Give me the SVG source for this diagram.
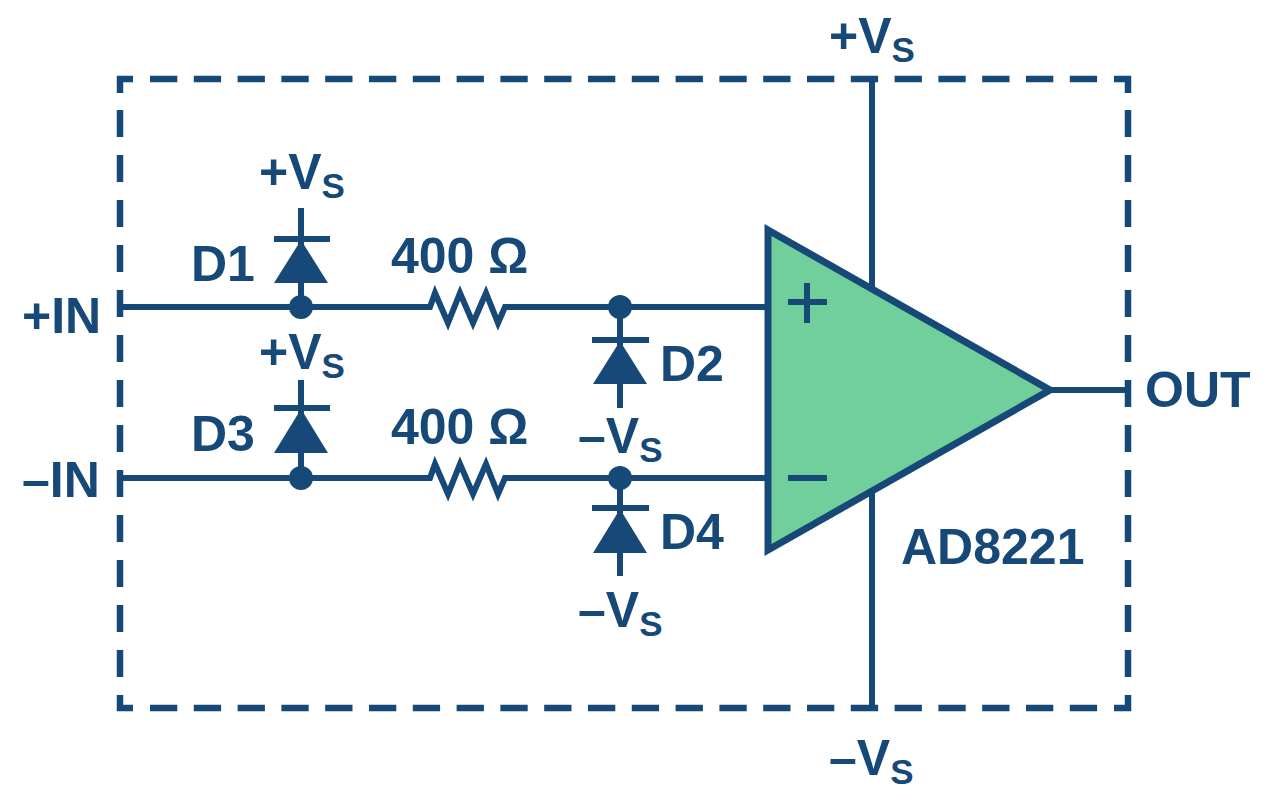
<svg xmlns="http://www.w3.org/2000/svg" width="1280" height="800" viewBox="0 0 1280 800">
<style>
.w{fill:none;stroke:#164878;stroke-width:6}
.b{fill:none;stroke:#164878;stroke-width:6.5}
.h{stroke-dasharray:27.3 16.5}
.v{stroke-dasharray:27 18}
.d{fill:#164878}
text{font-family:"Liberation Sans",Arial,sans-serif;font-weight:700;fill:#164878;font-size:50px}
.s{font-size:35px}
</style>
<rect width="1280" height="800" fill="#fff"/>
<g id="connectors">
<path class="b h" d="M150 79H1099M150 708H1099"/>
<path class="b v" d="M120 110V678M1128 110V678"/>
<path class="b" d="M133 79H120V93M1114 79H1128V93M120 695V708H133M1128 695V708H1114"/>
<path class="w" d="M120 307H430L435 293L448 323L460 293L473 323L486 293L498 323L505 307H767"/>
<path class="w" d="M120 478H430L435 464L448 494L460 464L473 494L486 464L498 494L505 478H767"/>
<path class="w" d="M872 79V290M872 490V708M1050 390H1128"/>
<path class="w" d="M301 208V307M301 380V478M620 307V408M620 478V576"/>
<path class="w" d="M274 239H330M274 408H330M592 340H649M592 508H649"/>
</g>
<g id="D1"><path class="d" d="M301 240L274 283H328Z"/><circle class="d" cx="301" cy="307" r="12"/><text x="191" y="281">D1</text></g>
<g id="D3"><path class="d" d="M301 409L274 453H328Z"/><circle class="d" cx="301" cy="478" r="12"/><text x="191" y="451">D3</text></g>
<g id="D2"><path class="d" d="M620 341L593 384H647Z"/><circle class="d" cx="620" cy="307" r="12"/><text x="660" y="381">D2</text></g>
<g id="D4"><path class="d" d="M620 509L593 553H647Z"/><circle class="d" cx="620" cy="478" r="12"/><text x="660" y="549">D4</text></g>
<g id="amp"><path d="M768 230L1050 390L768 550Z" fill="#70cf9a" stroke="#164878" stroke-width="7"/><path class="w" d="M788 302H827M807 283V323M788 478H827"/></g>
<g id="labels">
<text x="829" y="53">+V<tspan class="s" dy="9">S</tspan></text>
<text x="259" y="189">+V<tspan class="s" dy="9">S</tspan></text>
<text x="259" y="369">+V<tspan class="s" dy="9">S</tspan></text>
<text x="578" y="453">–V<tspan class="s" dy="9">S</tspan></text>
<text x="578" y="627">–V<tspan class="s" dy="9">S</tspan></text>
<text x="829" y="775">–V<tspan class="s" dy="9">S</tspan></text>
<text x="391" y="273">400 Ω</text>
<text x="391" y="444">400 Ω</text>
<text x="22" y="333">+IN</text>
<text x="22" y="497">–IN</text>
<text x="1145" y="407">OUT</text>
<text x="901" y="564">AD8221</text>
</g>
</svg>
